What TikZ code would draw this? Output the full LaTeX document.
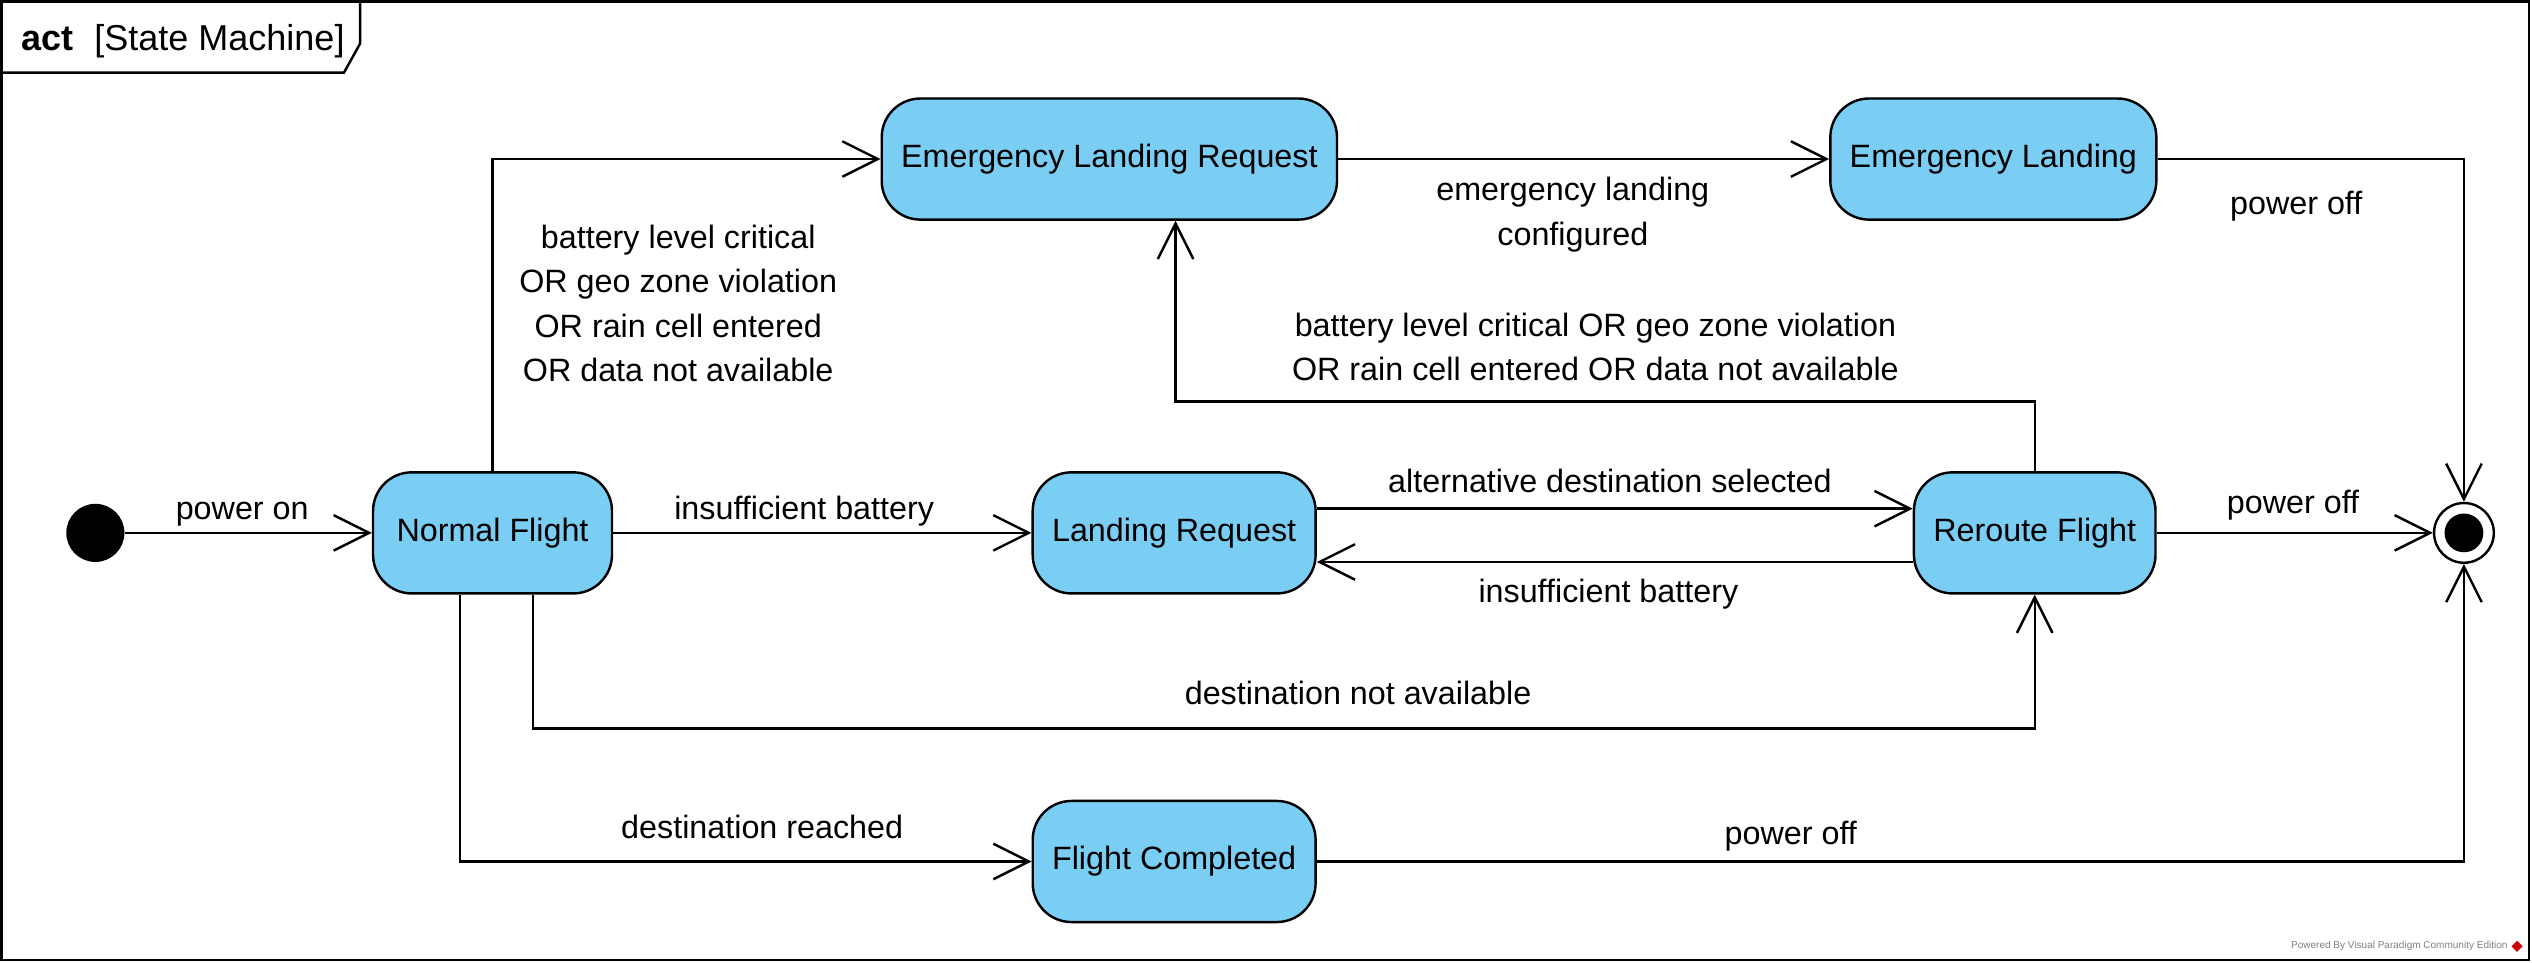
\documentclass[tikz,border=0pt]{standalone}
\usepackage{fontspec}
\setmainfont{Liberation Sans}
\usepackage{xcolor}
\usetikzlibrary{arrows.meta, positioning, shapes.geometric}

\definecolor{statefill}{HTML}{7ACEF4}

\begin{document}
\begin{tikzpicture}[
    x=1pt, y=-1pt,
    state/.style={rectangle, draw, line width=1.5pt, fill=statefill, rounded corners=24pt, minimum width=148pt, minimum height=75pt, inner xsep=12pt, font=\fontsize{20}{27.5}\selectfont},
    startdot/.style={circle, fill=black, minimum size=36pt, inner sep=0pt},
    enddot/.style={circle, draw, line width=1.5pt, fill=white, minimum size=37pt, inner sep=0pt, path picture={\fill[black] (path picture bounding box.center) circle (12pt);}},
    lbl/.style={font=\fontsize{20}{27.5}\selectfont, inner sep=0pt, text height=14.5pt, text depth=4.5pt},
    mlbl/.style={font=\fontsize{20}{27.5}\selectfont, inner sep=0pt, align=center},
    trans/.style={-{Straight Barb[length=22pt, width=22pt]}, line width=1.5pt}
]
\useasboundingbox (0,0) rectangle (1568,596);

% Frame
\draw[line width=1.5pt] (1,1) rectangle (1566,594.5);
\draw[line width=1.5pt] (1,45) -- (213,45) -- (223,27) -- (223,1);
\node[anchor=base west, inner sep=0pt, font=\fontsize{22.3}{26}\selectfont] (title) at (13,31) {\textbf{act}\hspace{13pt}[State Machine]};

% States
\node[state] (nf) at (305,330) {Normal Flight};
\node[startdot, left=153pt of nf] (start) {};
\node[state, right=259pt of nf] (lr) {Landing Request};
\node[state, right=369pt of lr] (rf) {Reroute Flight};
\node[state, below=127pt of lr] (fc) {Flight Completed};
\node[state] (elr) at (687,98.5) {Emergency Landing Request};
\node[state, right=304pt of elr] (el) {Emergency Landing};
\node[enddot, right=171pt of rf] (fin) {};

% Transitions
\draw[trans] (start) -- (nf);
\draw[trans] (nf.north) |- (elr.west);
\draw[trans] (elr) -- (el);
\draw[trans] (el.east) -| (fin.north);
\draw[trans] (rf.north) -- ++(0,-43) -| ([xshift=41pt]elr.south);
\draw[trans] (nf) -- (lr);
\draw[trans] ([yshift=15pt]lr.east) -- ([yshift=15pt]rf.west);
\draw[trans] ([yshift=-18pt]rf.west) -- ([yshift=-18pt]lr.east);
\draw[trans] (rf) -- (fin);
\draw[trans] ([xshift=25pt]nf.south) -- ++(0,83) -| (rf.south);
\draw[trans] ([xshift=-20pt]nf.south) |- (fc.west);
\draw[trans] (fc.east) -| (fin.south);

% Guards
\node[lbl] (lpwron) at (150,317) {power on};
\node[mlbl] (lcrit) at (420,188) {battery level critical\\OR geo zone violation\\OR rain cell entered\\OR data not available};
\node[mlbl] (lconf) at (974,133) {emergency landing\\configured};
\node[lbl] (loffel) at (1422,128) {power off};
\node[mlbl] (lcritrf) at (988,215) {battery level critical OR geo zone violation\\OR rain cell entered OR data not available};
\node[lbl] (lbatt) at (498,317) {insufficient battery};
\node[lbl] (lalt) at (997,300) {alternative destination selected};
\node[lbl] (lbattrf) at (996,368) {insufficient battery};
\node[lbl] (loffrf) at (1420,313) {power off};
\node[lbl] (lnotav) at (841,431) {destination not available};
\node[lbl] (lreach) at (472,514) {destination reached};
\node[lbl] (lofffc) at (1109,518) {power off};

% Watermark
\node[anchor=east, inner sep=0pt, text=gray, font=\fontsize{6.2}{7}\selectfont] (wm) at (1553,586) {Powered By Visual Paradigm Community Edition};
\node[diamond, fill=red!80!black, minimum size=7pt, inner sep=0pt, right=2pt of wm] (logo) {};

\end{tikzpicture}
\end{document}
